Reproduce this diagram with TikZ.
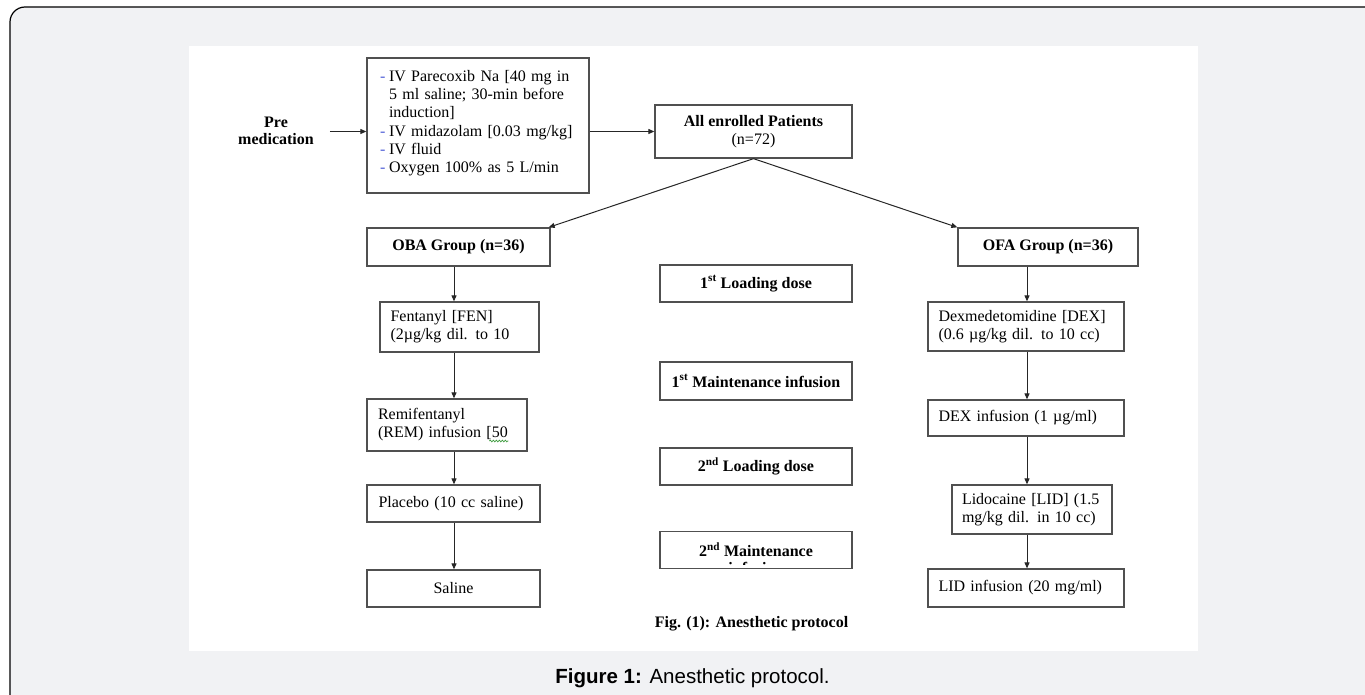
\documentclass[tikz,border=0pt]{standalone}
\usepackage{fontspec}
\setmainfont{Liberation Serif}
\newfontfamily\capfont{Liberation Sans}
\usetikzlibrary{arrows.meta,decorations.pathmorphing}
\definecolor{bggray}{HTML}{F1F2F4}
\definecolor{boxline}{HTML}{505050}
\definecolor{dashblue}{HTML}{5060D8}
\definecolor{wavegreen}{HTML}{3C9A3C}
\newcommand\dsh{\makebox[9pt][l]{\textcolor{dashblue}{-}}}
\newcommand\nodsh{\makebox[9pt][l]{}}
\begin{document}
\begin{tikzpicture}[x=1pt,y=-1pt,
  txt/.style={font=\fontsize{16}{18}\selectfont, inner sep=0pt},
  bx/.style 2 args={draw=boxline, line width=1.3pt, inner sep=0pt,
    font=\fontsize{16}{18}\selectfont, minimum width=#1, minimum height=#2},
  arr/.style={-{Triangle[length=6pt,width=5pt]}, line width=1pt, black!85}
]
\useasboundingbox (0,0) rectangle (1365,695);
\begin{scope}
\clip (0,0) rectangle (1365,695);
\fill[white] (0,0) rectangle (1365,695);
\draw[line width=1.2pt, fill=bggray, rounded corners=15pt] (10,7) rectangle (1395,712);
\end{scope}
\fill[white] (189,46) rectangle (1198,651);

% column coordinates
\coordinate (lc) at (454,0);
\coordinate (rc) at (1027,0);

% pre medication
\node[txt, align=center, font=\fontsize{16}{17}\selectfont\bfseries] (pre) at (276,131) {Pre\\medication};

\node[bx={222pt}{135pt}, text width=196pt, align=left,
  font=\fontsize{16}{18.2}\selectfont] (premed) at (478,125.5) {%
\dsh\makebox[187pt][s]{IV Parecoxib Na [40 mg in}\\
\nodsh\makebox[187pt][s]{5 ml saline; 30-min before}\\
\nodsh induction]\\
\dsh IV midazolam [0.03 mg/kg]\\
\dsh IV fluid\\
\dsh Oxygen 100\% as 5 L/min\\[-10pt]
\rule{0pt}{1pt}};

\node[bx={197pt}{53pt}, align=center] (all) at (753.5,131.5) {\textbf{All enrolled Patients}\\(n=72)};

\node[bx={183pt}{38pt}] (oba) at (458.5,247) {\textbf{OBA Group (n=36)}};
\node[bx={180pt}{38pt}] (ofa) at (1048,247) {\textbf{OFA Group (n=36)}};

% center column
\node[bx={192pt}{37pt}] (l1) at (756,283.5) {\textbf{1\textsuperscript{st} Loading dose}};
\node[bx={192pt}{38pt}] (m1) at (756,381) {\textbf{1\textsuperscript{st} Maintenance infusion}};
\node[bx={192pt}{37pt}] (l2) at (756,466.5) {\textbf{2\textsuperscript{nd} Loading dose}};
\node[bx={192pt}{37pt}] (m2) at (756,550) {\textbf{2\textsuperscript{nd} Maintenance}};
\begin{scope}
\clip ([xshift=2pt, yshift=4.5pt]m2.south west) rectangle ([xshift=-2pt]m2.north east);
\node[txt, anchor=base, font=\fontsize{16}{18}\selectfont\bfseries] (m2b) at (756,573.5) {infusion};
\end{scope}

% left column
\node[bx={159pt}{50pt}, text width=138pt, align=left] (fen) at (459.5,327) {Fentanyl [FEN]\\(2µg/kg dil. to 10};
\node[bx={160pt}{52pt}, text width=138pt, align=left] (remi) at (447,425) {Remifentanyl\\(REM) infusion [50};
\draw[wavegreen, line width=0.7pt, decorate, decoration={snake, segment length=3pt, amplitude=0.8pt}]
  ([xshift=123pt, yshift=-16pt]remi.west) -- ([xshift=142pt, yshift=-16pt]remi.west);
\node[bx={173pt}{37pt}, text width=150pt, align=left] (plac) at (453.5,503.5) {Placebo (10 cc saline)};
\node[bx={173pt}{37pt}] (sal) at (453.5,588.5) {Saline};

% right column
\node[bx={196pt}{49pt}, text width=175pt, align=left] (dex) at (1026,326.5) {Dexmedetomidine [DEX]\\(0.6 µg/kg dil. to 10 cc)};
\node[bx={196pt}{36pt}, text width=175pt, align=left] (dexi) at (1026,418) {DEX infusion (1 µg/ml)};
\node[bx={160pt}{49pt}, text width=140pt, align=left] (lido) at (1032,509.5) {Lidocaine [LID] (1.5\\mg/kg dil. in 10 cc)};
\node[bx={196pt}{38pt}, text width=175pt, align=left] (lidi) at (1026,588) {LID infusion (20 mg/ml)};

% captions
\node[txt, anchor=base, font=\fontsize{16}{18}\selectfont\bfseries] (fig) at (751.5,627) {Fig. (1): Anesthetic protocol};
\node[inner sep=0pt, anchor=base, font=\capfont\fontsize{20.5}{24}\selectfont] (cap) at (692.5,683) {\textbf{Figure 1:} Anesthetic protocol.};

% connectors
\draw[arr] ([xshift=16pt]pre.east |- all.west) -- (premed.west |- all.west);
\draw[arr] (premed.east |- all.west) -- (all.west);
\draw[arr] (all.south) -- ([xshift=-2pt]oba.north east);
\draw[arr] (all.south) -- (ofa.north west);

\draw[arr] (oba.south -| lc) -- (fen.north -| lc);
\draw[arr] (fen.south -| lc) -- (remi.north -| lc);
\draw[arr] (remi.south -| lc) -- (plac.north -| lc);
\draw[arr] (plac.south -| lc) -- (sal.north -| lc);

\draw[arr] (ofa.south -| rc) -- (dex.north -| rc);
\draw[arr] (dex.south -| rc) -- (dexi.north -| rc);
\draw[arr] (dexi.south -| rc) -- (lido.north -| rc);
\draw[arr] (lido.south -| rc) -- (lidi.north -| rc);
\end{tikzpicture}
\end{document}
